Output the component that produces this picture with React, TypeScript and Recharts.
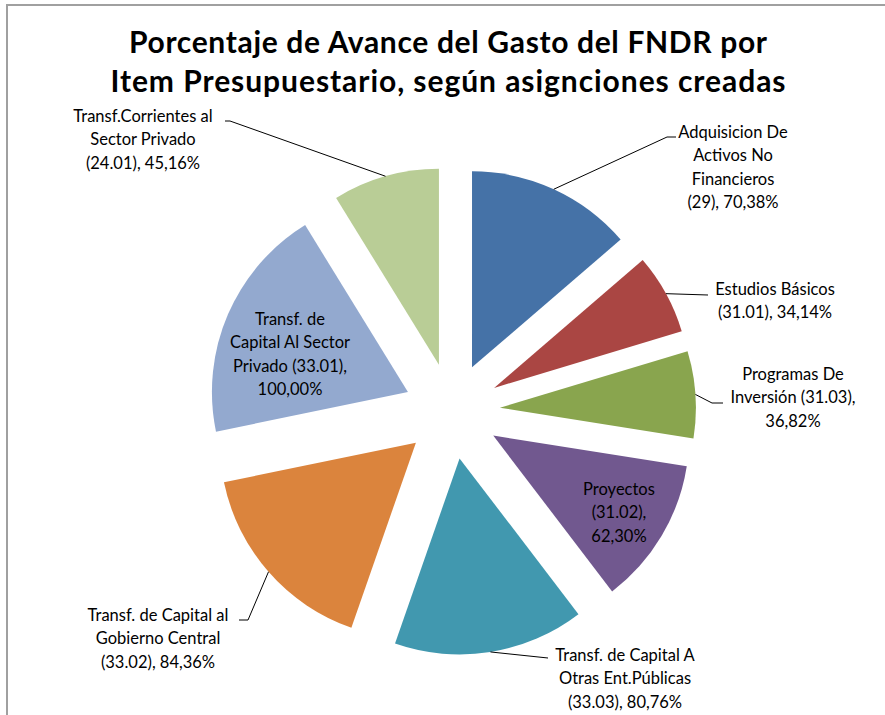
import React from "react";
import { PieChart, Pie, Cell, Sector } from "recharts";

const TITLE_LINES = [
  "Porcentaje de Avance del Gasto del FNDR por",
  "Item Presupuestario, según asignciones creadas",
];

const CATEGORIES = [
  "Adquisicion De Activos No Financieros (29)",
  "Estudios Básicos (31.01)",
  "Programas De Inversión (31.03)",
  "Proyectos (31.02)",
  "Transf. de Capital A Otras Ent.Públicas (33.03)",
  "Transf. de Capital al Gobierno Central (33.02)",
  "Transf. de Capital Al Sector Privado (33.01)",
  "Transf.Corrientes al Sector Privado (24.01)",
];

const VALUES = [70.38, 34.14, 36.82, 62.3, 80.76, 84.36, 100.0, 45.16];

const COLORS = [
  "#4572A7",
  "#AA4643",
  "#89A54E",
  "#71588F",
  "#4198AF",
  "#DB843D",
  "#93A9CF",
  "#B9CD96",
];

// label layout (text block centre of first line, wrap width in chars, leader-line elbows)
const LABEL_LAYOUT = [
  { x: 733, y: 132, wrap: 14, path: [[667, 137], [676, 137]] },
  { x: 775, y: 289, wrap: 16, path: [[708, 295]] },
  { x: 793, y: 374, wrap: 18, path: [[712, 403], [723, 403]] },
  { x: 619, y: 489, wrap: 10, path: [] },
  { x: 625, y: 655, wrap: 20, path: [[548, 658]] },
  { x: 158, y: 615, wrap: 21, path: [[248, 620], [239, 620]] },
  { x: 290, y: 319, wrap: 17, path: [] },
  { x: 143, y: 116, wrap: 20, path: [[230, 121], [225, 121]] },
];

const TITLE_WIDTHS = [638, 675];

const EXPLODE = 48;
const LABEL_FONT = 16.5;
const LINE_H = 23.5;
const FONT = "Lato, 'Open Sans', sans-serif";

const data = CATEGORIES.map((name, i) => ({ name, value: VALUES[i] }));

const fmt = (v: number) => v.toFixed(2).replace(".", ",") + "%";

function wrap(text: string, max: number): string[] {
  const words = text.split(" ");
  const lines: string[] = [];
  let cur = "";
  for (const w of words) {
    if (!cur) cur = w;
    else if ((cur + " " + w).length <= max) cur += " " + w;
    else {
      lines.push(cur);
      cur = w;
    }
  }
  if (cur) lines.push(cur);
  return lines;
}

const RAD = Math.PI / 180;

function ExplodedSector(props: any) {
  const { cx, cy, midAngle } = props;
  const dx = EXPLODE * Math.cos(-midAngle * RAD);
  const dy = EXPLODE * Math.sin(-midAngle * RAD);
  return <Sector {...props} cx={cx + dx} cy={cy + dy} stroke="none" />;
}

function renderLabel(props: any) {
  const { cx, cy, midAngle, outerRadius, index } = props;
  const layout = LABEL_LAYOUT[index];
  const d = data[index];
  const text = `${d.name}, ${fmt(d.value)}`;
  const lines = wrap(text, layout.wrap);
  const ecx = cx + EXPLODE * Math.cos(-midAngle * RAD);
  const ecy = cy + EXPLODE * Math.sin(-midAngle * RAD);
  const sx = ecx + outerRadius * Math.cos(-midAngle * RAD);
  const sy = ecy + outerRadius * Math.sin(-midAngle * RAD);
  const pts = [[sx, sy], ...layout.path];
  return (
    <g key={`lbl-${index}`}>
      {layout.path.length > 0 && (
        <polyline
          points={pts.map((p) => p.join(",")).join(" ")}
          fill="none"
          stroke="#000"
          strokeWidth={1}
        />
      )}
      <text
        textAnchor="middle"
        fontFamily={FONT}
        fontSize={LABEL_FONT}
        fill="#000"
      >
        {lines.map((ln, i) => (
          <tspan key={i} x={layout.x} y={layout.y + 5.5 + i * LINE_H}>
            {ln}
          </tspan>
        ))}
      </text>
    </g>
  );
}

export default function App() {
  return (
    <div style={{ position: "absolute", left: 0, top: 0, width: 885, height: 715, background: "#fff" }}>
      <PieChart width={885} height={715} margin={{ top: 0, right: 0, bottom: 0, left: 0 }}>
        <Pie
          data={data}
          dataKey="value"
          nameKey="name"
          cx={452}
          cy={411}
          outerRadius={196}
          startAngle={90}
          endAngle={-270}
          stroke="none"
          isAnimationActive={false}
          shape={ExplodedSector}
          activeShape={ExplodedSector}
          inactiveShape={ExplodedSector}
          label={renderLabel}
          labelLine={false}
        >
          {data.map((_, i) => (
            <Cell key={i} fill={COLORS[i]} />
          ))}
        </Pie>
      </PieChart>
      <svg
        width={885}
        height={715}
        style={{ position: "absolute", left: 0, top: 0, pointerEvents: "none" }}
      >
        <path d="M7,715 V5 H885" fill="none" stroke="#A0A0A0" strokeWidth={2} />
        {TITLE_LINES.map((t, i) => (
          <text
            key={i}
            x={448}
            y={53 + i * 39}
            textAnchor="middle"
            fontFamily={FONT}
            fontWeight="bold"
            fontSize={30}
            textLength={TITLE_WIDTHS[i]}
            lengthAdjust="spacing"
            fill="#000"
          >
            {t}
          </text>
        ))}
      </svg>
    </div>
  );
}
